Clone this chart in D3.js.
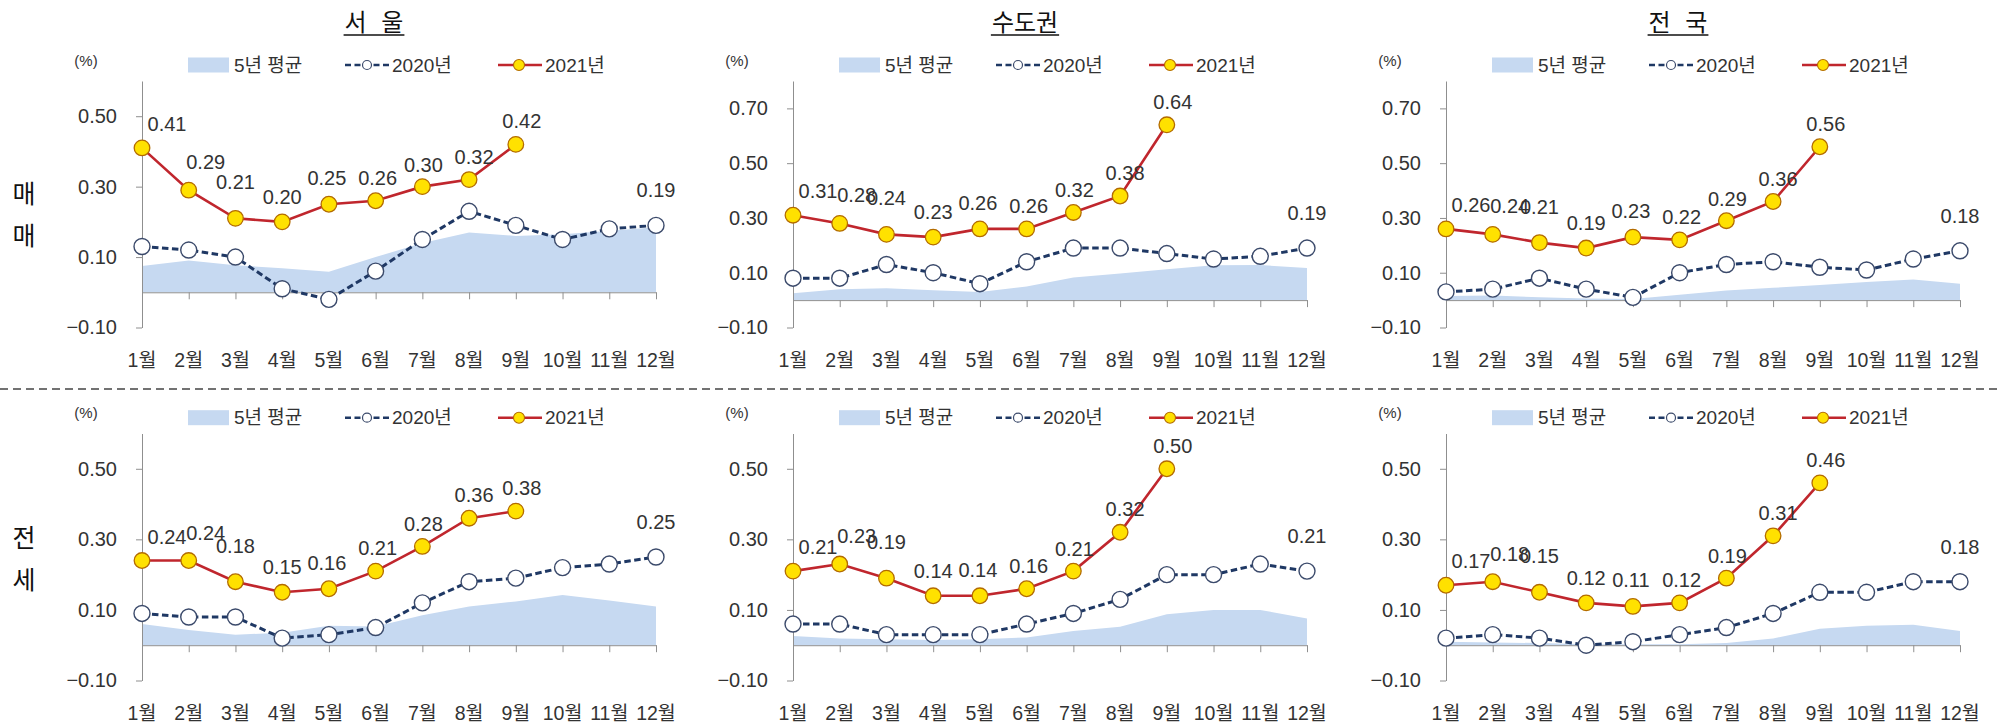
<!DOCTYPE html>
<html>
<head>
<meta charset="utf-8">
<script src="https://cdn.jsdelivr.net/npm/d3@7"></script>
<style>
  body { margin: 0; background: #ffffff; }
  svg { display: block; }
  text { font-family: "Liberation Sans", "Noto Sans CJK KR", sans-serif; }
</style>
</head>
<body>
<svg id="chart" width="2002" height="726"></svg>
<script>
// ---- data -------------------------------------------------------------
const months = ["1월", "2월", "3월", "4월", "5월", "6월", "7월", "8월", "9월", "10월", "11월", "12월"];
const regionTitles = ["서 울", "수도권", "전 국"];
const rowTitles = [["매", "매"], ["전", "세"]];
const legendNames = ["5년 평균", "2020년", "2021년"];
const unitLabel = "(%)";

const ticksShort = [-0.1, 0.1, 0.3, 0.5];
const ticksTall = [-0.1, 0.1, 0.3, 0.5, 0.7];

// 매매 (sale prices), monthly change %
const seoulSaleAvg  = [0.075, 0.09, 0.077, 0.068, 0.058, 0.10, 0.14, 0.17, 0.16, 0.165, 0.175, 0.185];
const seoulSale2020 = [0.13, 0.12, 0.10, 0.01, -0.02, 0.06, 0.15, 0.23, 0.19, 0.15, 0.18, 0.19];
const seoulSale2021 = [0.41, 0.29, 0.21, 0.20, 0.25, 0.26, 0.30, 0.32, 0.42];

const metroSaleAvg  = [0.025, 0.04, 0.043, 0.036, 0.03, 0.05, 0.083, 0.097, 0.113, 0.127, 0.128, 0.117];
const metroSale2020 = [0.08, 0.08, 0.13, 0.10, 0.06, 0.14, 0.19, 0.19, 0.17, 0.15, 0.16, 0.19];
const metroSale2021 = [0.31, 0.28, 0.24, 0.23, 0.26, 0.26, 0.32, 0.38, 0.64];

const nationSaleAvg  = [0.015, 0.017, 0.01, 0.006, 0.004, 0.02, 0.035, 0.045, 0.055, 0.066, 0.075, 0.06];
const nationSale2020 = [0.03, 0.04, 0.08, 0.04, 0.01, 0.10, 0.13, 0.14, 0.12, 0.11, 0.15, 0.18];
const nationSale2021 = [0.26, 0.24, 0.21, 0.19, 0.23, 0.22, 0.29, 0.36, 0.56];

// 전세 (jeonse leases), monthly change %
const seoulRentAvg  = [0.06, 0.043, 0.03, 0.035, 0.055, 0.053, 0.085, 0.11, 0.124, 0.142, 0.127, 0.11];
const seoulRent2020 = [0.09, 0.08, 0.08, 0.02, 0.03, 0.05, 0.12, 0.18, 0.19, 0.22, 0.23, 0.25];
const seoulRent2021 = [0.24, 0.24, 0.18, 0.15, 0.16, 0.21, 0.28, 0.36, 0.38];

const metroRentAvg  = [0.026, 0.019, 0.017, 0.015, 0.017, 0.022, 0.04, 0.052, 0.088, 0.10, 0.10, 0.076];
const metroRent2020 = [0.06, 0.06, 0.03, 0.03, 0.03, 0.06, 0.09, 0.13, 0.20, 0.20, 0.23, 0.21];
const metroRent2021 = [0.21, 0.23, 0.19, 0.14, 0.14, 0.16, 0.21, 0.32, 0.50];

const nationRentAvg  = [0.01, 0.008, 0.006, 0.003, 0.003, 0.003, 0.006, 0.019, 0.047, 0.055, 0.058, 0.04];
const nationRent2020 = [0.02, 0.03, 0.02, 0.00, 0.01, 0.03, 0.05, 0.09, 0.15, 0.15, 0.18, 0.18];
const nationRent2021 = [0.17, 0.18, 0.15, 0.12, 0.11, 0.12, 0.19, 0.31, 0.46];

// ---- layout -----------------------------------------------------------
const colLeft = [142, 793, 1446];   // x of the first month in each column
const plotWidth = 514;
const rowRange = [[327.5, 81], [680.5, 433.5]];  // pixel range for each row's y scale
const rowShift = 352.7;

// label nudges (dx, dy) for the 2021 value labels, by month index
const labelNudge = [[25, -24], [17, -28], [0, -36], [0, -25], [-2, -26], [2, -23], [1, -22], [5, -23], [6, -23]];
const lastLabelNudge = [0, -35];

const colors = {
  avg: "#c6d9f1",
  y2020: "#1f3864",
  y2021: "#c0262d",
  dot2021: "#ffe100",
  dot2021Stroke: "#b36b00",
  axis: "#8f8f8f",
  text: "#333333"
};

const panels = [
  { row: 0, col: 0, avg: seoulSaleAvg,  a: seoulSale2020,  b: seoulSale2021,  top: 0.6, ticks: ticksShort },
  { row: 0, col: 1, avg: metroSaleAvg,  a: metroSale2020,  b: metroSale2021,  top: 0.8, ticks: ticksTall },
  { row: 0, col: 2, avg: nationSaleAvg, a: nationSale2020, b: nationSale2021, top: 0.8, ticks: ticksTall },
  { row: 1, col: 0, avg: seoulRentAvg,  a: seoulRent2020,  b: seoulRent2021,  top: 0.6, ticks: ticksShort },
  { row: 1, col: 1, avg: metroRentAvg,  a: metroRent2020,  b: metroRent2021,  top: 0.6, ticks: ticksShort },
  { row: 1, col: 2, avg: nationRentAvg, a: nationRent2020, b: nationRent2021, top: 0.6, ticks: ticksShort }
];

const svg = d3.select("#chart");
const fmt = d3.format(".2f");

// column titles
regionTitles.forEach((t, i) => {
  const cx = colLeft[i] + 232;
  const txt = svg.append("text")
    .attr("x", cx).attr("y", 22)
    .attr("text-anchor", "middle").attr("dominant-baseline", "central")
    .attr("font-family", "Noto Sans CJK KR, sans-serif")
    .attr("font-size", 24).attr("word-spacing", 8).attr("fill", "#111")
    .text(t);
  const w = txt.node().getComputedTextLength();
  svg.append("line")
    .attr("x1", cx - w / 2 - 1).attr("x2", cx + w / 2 + 1)
    .attr("y1", 35).attr("y2", 35)
    .attr("stroke", "#111").attr("stroke-width", 1.4);
});

// row titles
rowTitles.forEach((chars, r) => {
  const mid = 214.5 + r * 344;
  chars.forEach((c, k) => {
    svg.append("text")
      .attr("x", 24).attr("y", mid + (k === 0 ? -21 : 21))
      .attr("text-anchor", "middle").attr("dominant-baseline", "central")
      .attr("font-family", "Noto Sans CJK KR, sans-serif")
      .attr("font-size", 25).attr("fill", "#111")
      .text(c);
  });
});

// separator between rows
svg.append("line")
  .attr("x1", 0).attr("x2", 2002).attr("y1", 389).attr("y2", 389)
  .attr("stroke", "#444").attr("stroke-width", 1.4).attr("stroke-dasharray", "8,5");

panels.forEach(p => {
  const x0 = colLeft[p.col];
  const dy = p.row * rowShift;
  const g = svg.append("g");

  const x = d3.scalePoint().domain(months).range([x0, x0 + plotWidth]);
  const y = d3.scaleLinear().domain([-0.1, p.top]).range(rowRange[p.row]);

  // 5-year average as a filled area
  const area = d3.area()
    .x((d, i) => x(months[i]))
    .y0(y(0))
    .y1(d => y(d));
  g.append("path").datum(p.avg)
    .attr("d", area).attr("fill", colors.avg);

  // y axis
  const yAxis = g.append("g")
    .attr("transform", `translate(${x0},0)`)
    .call(d3.axisLeft(y).tickValues(p.ticks).tickFormat(fmt).tickSize(6).tickSizeOuter(0).tickPadding(19));
  yAxis.select(".domain").attr("stroke", colors.axis);
  yAxis.selectAll(".tick line").attr("stroke", colors.axis);
  yAxis.selectAll(".tick text")
    .attr("font-size", 20).attr("fill", colors.text)
    .attr("font-family", "Liberation Sans, sans-serif");

  // x axis along zero
  const xAxis = g.append("g")
    .attr("transform", `translate(0,${y(0)})`)
    .call(d3.axisBottom(x).tickSize(7).tickSizeOuter(0).tickFormat(""));
  xAxis.select(".domain").attr("stroke", colors.axis);
  xAxis.selectAll(".tick line").attr("stroke", colors.axis);

  // month labels along the bottom
  g.selectAll(".month").data(months).enter().append("text")
    .attr("x", d => x(d)).attr("y", 360 + dy)
    .attr("text-anchor", "middle").attr("dominant-baseline", "central")
    .attr("font-size", 19.5).attr("fill", colors.text)
    .text(d => d);

  // 2020 dashed line
  const line = d3.line().x((d, i) => x(months[i])).y(d => y(d));
  g.append("path").datum(p.a)
    .attr("d", line).attr("fill", "none")
    .attr("stroke", colors.y2020).attr("stroke-width", 3)
    .attr("stroke-dasharray", "6.5,3.5");

  // 2021 solid line
  g.append("path").datum(p.b)
    .attr("d", line).attr("fill", "none")
    .attr("stroke", colors.y2021).attr("stroke-width", 2.6);

  // 2020 markers
  g.selectAll(".m20").data(p.a).enter().append("circle")
    .attr("cx", (d, i) => x(months[i])).attr("cy", d => y(d))
    .attr("r", 8).attr("fill", "#fff")
    .attr("stroke", "#3b4a6b").attr("stroke-width", 1.4);

  // 2021 markers
  g.selectAll(".m21").data(p.b).enter().append("circle")
    .attr("cx", (d, i) => x(months[i])).attr("cy", d => y(d))
    .attr("r", 7.8).attr("fill", colors.dot2021)
    .attr("stroke", colors.dot2021Stroke).attr("stroke-width", 1.3);

  // 2021 value labels
  g.selectAll(".lab21").data(p.b).enter().append("text")
    .attr("x", (d, i) => x(months[i]) + labelNudge[i][0])
    .attr("y", (d, i) => y(d) + labelNudge[i][1])
    .attr("text-anchor", "middle").attr("dominant-baseline", "central")
    .attr("font-size", 20).attr("fill", colors.text)
    .text(d => fmt(d));

  // label on the last 2020 point
  const last = p.a.length - 1;
  g.append("text")
    .attr("x", x(months[last]) + lastLabelNudge[0])
    .attr("y", y(p.a[last]) + lastLabelNudge[1])
    .attr("text-anchor", "middle").attr("dominant-baseline", "central")
    .attr("font-size", 20).attr("fill", colors.text)
    .text(fmt(p.a[last]));

  // unit
  const ly = 65 + dy;
  g.append("text")
    .attr("x", x0 - 56).attr("y", ly - 5)
    .attr("text-anchor", "middle").attr("dominant-baseline", "central")
    .attr("font-size", 15).attr("fill", colors.text)
    .text(unitLabel);

  // legend
  g.append("rect")
    .attr("x", x0 + 46).attr("y", ly - 7.5)
    .attr("width", 41).attr("height", 15)
    .attr("fill", colors.avg);
  g.append("text")
    .attr("x", x0 + 92).attr("y", ly)
    .attr("dominant-baseline", "central")
    .attr("font-size", 19).attr("fill", colors.text)
    .text(legendNames[0]);

  g.append("line")
    .attr("x1", x0 + 203).attr("x2", x0 + 248).attr("y1", ly).attr("y2", ly)
    .attr("stroke", colors.y2020).attr("stroke-width", 2.6).attr("stroke-dasharray", "6,3.5");
  g.append("circle")
    .attr("cx", x0 + 225).attr("cy", ly).attr("r", 4.5)
    .attr("fill", "#fff").attr("stroke", "#3b4a6b").attr("stroke-width", 1.2);
  g.append("text")
    .attr("x", x0 + 250).attr("y", ly)
    .attr("dominant-baseline", "central")
    .attr("font-size", 19).attr("fill", colors.text)
    .text(legendNames[1]);

  g.append("line")
    .attr("x1", x0 + 356).attr("x2", x0 + 400).attr("y1", ly).attr("y2", ly)
    .attr("stroke", colors.y2021).attr("stroke-width", 2.5);
  g.append("circle")
    .attr("cx", x0 + 377).attr("cy", ly).attr("r", 5.5)
    .attr("fill", colors.dot2021).attr("stroke", colors.dot2021Stroke).attr("stroke-width", 1.1);
  g.append("text")
    .attr("x", x0 + 403).attr("y", ly)
    .attr("dominant-baseline", "central")
    .attr("font-size", 19).attr("fill", colors.text)
    .text(legendNames[2]);
});
</script>
</body>
</html>
